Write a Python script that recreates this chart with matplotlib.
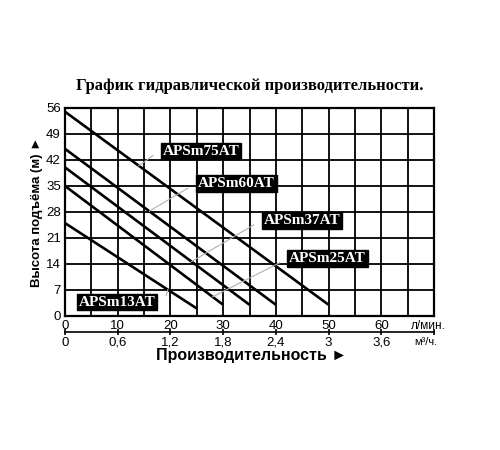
import numpy as np
import matplotlib.pyplot as plt

# =========================================
# DATA
# =========================================
models = ["APSm13AT", "APSm25AT", "APSm37AT", "APSm60AT", "APSm75AT"]
head_max = [25, 35, 40, 45, 55]      # м при 0 л/мин
flow_max = [25, 30, 35, 40, 50]      # л/мин в конце кривой
head_end = [2, 3, 3, 3, 3]           # м в конце кривой

flow_ticks = [0, 10, 20, 30, 40, 50, 60]
m3_labels = ["0", "0,6", "1,2", "1,8", "2,4", "3", "3,6"]
head_ticks = [0, 7, 14, 21, 28, 35, 42, 49, 56]

# положение подписей (центр плашки) и точка, куда идёт выноска
label_pos = [(9.9, 3.7), (49.8, 15.5), (44.9, 25.7), (32.5, 35.6), (25.8, 44.4)]
leader_from = [(19.2, 5.5), (40.7, 14.3), (35.8, 24.5), (23.3, 34.4), (16.7, 43.2)]
leader_x = [19.5, 28, 24, 16, 14]

SANS = ["Liberation Sans", "DejaVu Sans"]
SERIF = ["Liberation Serif", "DejaVu Serif"]

# =========================================
# PLOT
# =========================================
fig = plt.figure(figsize=(5, 4.5), dpi=100)
ax = fig.add_axes([0.13, 0.298, 0.738, 0.462])

ax.set_xlim(0, 70)
ax.set_ylim(0, 56)
ax.set_yticks(head_ticks)
ax.grid(True, color="black", linewidth=1.3)
ax.set_axisbelow(True)
for sp in ax.spines.values():
    sp.set_linewidth(1.6)

ax.tick_params(length=0, labelsize=9.5, pad=3)
ax.set_xticks(np.arange(0, 71, 5))
ax.set_xticklabels([str(v) if v in flow_ticks else "" for v in range(0, 71, 5)],
                   family=SANS, fontsize=9.5)
ax.set_yticklabels([str(v) for v in head_ticks], family=SANS, fontsize=9.5)
ax.annotate("л/мин.", xy=(69, 0), xycoords=("data", "axes fraction"),
            xytext=(0, -3), textcoords="offset points", ha="center", va="top",
            family=SANS, fontsize=8.5, annotation_clip=False)

for hm, fm, he in zip(head_max, flow_max, head_end):
    ax.plot([0, fm], [hm, he], color="black", linewidth=1.9, zorder=3,
            solid_capstyle="butt")

for i, name in enumerate(models):
    xs = [0, flow_max[i]]
    ys = [head_max[i], head_end[i]]
    ty = np.interp(leader_x[i], xs, ys)
    ax.plot([leader_from[i][0], leader_x[i]], [leader_from[i][1], ty],
            color="#b0b0b0", linewidth=0.8, zorder=4)
    ax.text(label_pos[i][0], label_pos[i][1], name, ha="center", va="center",
            color="white", fontsize=11, fontweight="bold", family=SERIF, zorder=5,
            bbox=dict(boxstyle="square,pad=0.12", fc="black", ec="black"))

ax.set_ylabel("Высота подъёма (м) ►", family=SANS, fontweight="bold",
              fontsize=9.5, labelpad=2)

# вторая шкала м³/ч
ax2 = fig.add_axes([0.13, 0.262, 0.738, 0.0001])
ax2.set_xlim(0, 70)
ax2.set_yticks([])
for s in ["top", "left", "right"]:
    ax2.spines[s].set_visible(False)
ax2.spines["bottom"].set_linewidth(1.2)
ax2.set_xticks(flow_ticks + [70])
ax2.set_xticklabels(m3_labels + [""], family=SANS, fontsize=9.5)
ax2.tick_params(direction="inout", length=5, width=1.2, pad=1)
ax2.annotate("м³/ч.", xy=(68.5, 0), xycoords=("data", "axes fraction"),
             xytext=(0, -3.5), textcoords="offset points", ha="center", va="top",
             family=SANS, fontsize=8, annotation_clip=False)

fig.text(0.504, 0.211, "Производительность ►", ha="center", va="center",
         family=SANS, fontweight="bold", fontsize=11.5)
fig.text(0.5, 0.81, "График гидравлической производительности.", ha="center",
         va="center", family=SERIF, fontweight="bold", fontsize=12)

fig.savefig("out.png", dpi=100)
